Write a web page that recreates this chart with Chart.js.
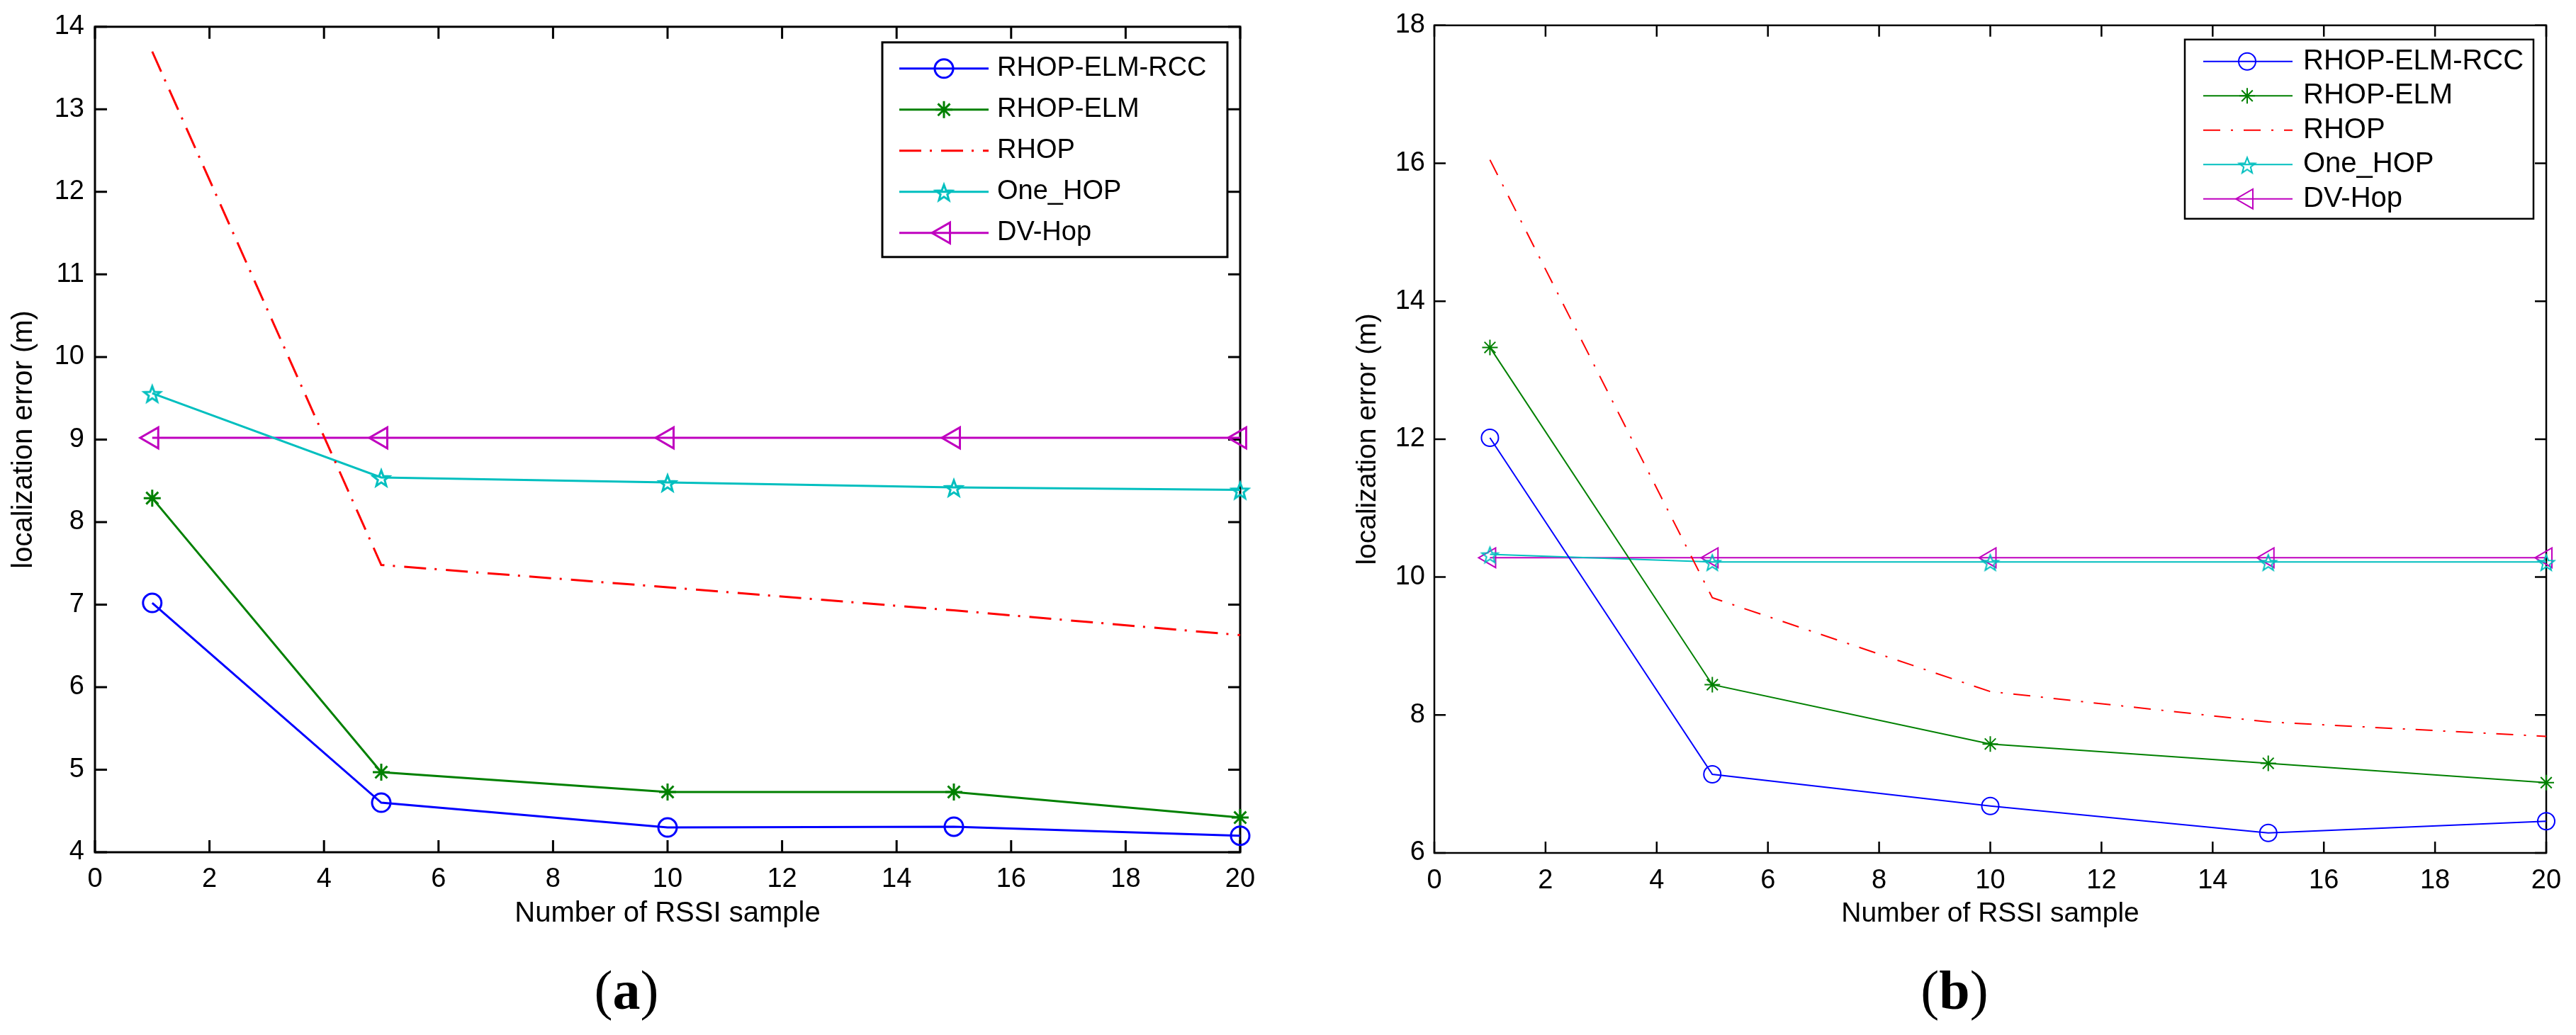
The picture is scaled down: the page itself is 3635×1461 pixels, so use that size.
<!DOCTYPE html>
<html>
<head>
<meta charset="utf-8">
<script src="https://cdn.jsdelivr.net/npm/chart.js@4.4.1/dist/chart.umd.min.js"></script>
<style>
html, body { margin: 0; padding: 0; background: #fff; }
body { width: 3635px; height: 1461px; position: relative; overflow: hidden; }
canvas { position: absolute; top: 0; }
#chartA { left: 0; }
#chartB { left: 1800px; }
.cap { position: absolute; top: 1350px; font-family: "Liberation Serif", "DejaVu Serif", serif; font-size: 78px; line-height: 96px; transform: translateX(-50%); }
</style>
</head>
<body>
<canvas id="chartA" width="1800" height="1461"></canvas>
<canvas id="chartB" width="1835" height="1461"></canvas>
<div class="cap" style="left:884px">(<b>a</b>)</div>
<div class="cap" style="left:2758px">(<b>b</b>)</div>
<script>
// x values: number of RSSI samples
const sampleCounts = [1, 5, 10, 15, 20];
const seriesNames = ["RHOP-ELM-RCC", "RHOP-ELM", "RHOP", "One_HOP", "DV-Hop"];

// (a)
const rccA = [7.02, 4.60, 4.30, 4.31, 4.20];
const elmA = [8.29, 4.97, 4.73, 4.73, 4.42];
const rhopA = [13.70, 7.48, 7.21, 6.93, 6.63];
const oneHopA = [9.56, 8.54, 8.48, 8.42, 8.39];
const dvHopA = [9.02, 9.02, 9.02, 9.02, 9.02];

// (b)
const rccB = [12.02, 7.14, 6.68, 6.29, 6.46];
const elmB = [13.33, 8.44, 7.58, 7.30, 7.02];
const rhopB = [16.05, 9.70, 8.34, 7.90, 7.69];
const oneHopB = [10.33, 10.22, 10.22, 10.22, 10.22];
const dvHopB = [10.28, 10.28, 10.28, 10.28, 10.28];

// tick labels
const xTicks = [0, 2, 4, 6, 8, 10, 12, 14, 16, 18, 20];
const yTicksA = [4, 5, 6, 7, 8, 9, 10, 11, 12, 13, 14];
const yTicksB = [6, 8, 10, 12, 14, 16, 18];

const xTitle = "Number of RSSI sample";
const yTitle = "localization error (m)";

const FONT = '"Liberation Sans", Arial, Helvetica, sans-serif';

// open pentagram marker (matlab 'p')
function pentagram(color, r, lw) {
    const s = Math.ceil(2 * r + 2 * lw + 4);
    const c = document.createElement('canvas');
    c.width = c.height = s;
    const g = c.getContext('2d');
    g.strokeStyle = color;
    g.lineWidth = lw;
    g.beginPath();
    for (let k = 0; k < 10; k++) {
        const rr = k % 2 ? r * 0.42 : r;
        const ang = -Math.PI / 2 + k * Math.PI / 5;
        const px = s / 2 + rr * Math.cos(ang);
        const py = s / 2 + 2 + rr * Math.sin(ang);
        if (k === 0) g.moveTo(px, py); else g.lineTo(px, py);
    }
    g.closePath();
    g.stroke();
    return c;
}

function points(vals) {
    return sampleCounts.map((x, i) => ({ x: x, y: vals[i] }));
}

function makeSets(vals, st) {
    const colors = ['#0000ff', '#008000', '#ff0000', '#00bfbf', '#bf00bf'];
    const styles = ['circle', 'star', false, pentagram('#00bfbf', st.starR, st.markLw), 'triangle'];
    const radii = [st.circR, st.astR, 0, st.starR, st.triR];
    return vals.map((v, i) => ({
        label: seriesNames[i],
        data: points(v),
        borderColor: colors[i],
        borderWidth: st.lineW,
        borderDash: i === 2 ? st.dash : [],
        pointStyle: styles[i],
        pointRadius: radii[i],
        pointRotation: i === 4 ? 270 : 0,
        pointBorderColor: colors[i],
        pointBackgroundColor: 'rgba(0,0,0,0)',
        pointBorderWidth: st.markLw,
        pointHoverRadius: radii[i],
        tension: 0,
        fill: false,
        clip: false
    }));
}

// box with inward ticks on all four sides, like matlab
const frameTicks = {
    id: 'frameTicks',
    beforeDatasetsDraw(chart, args, o) {
        const { ctx, chartArea: a, scales: { x, y } } = chart;
        ctx.save();
        ctx.strokeStyle = '#000';
        ctx.lineWidth = o.tickWidth;
        ctx.beginPath();
        x.ticks.forEach(t => {
            const px = x.getPixelForValue(t.value);
            ctx.moveTo(px, a.bottom); ctx.lineTo(px, a.bottom - o.len);
            ctx.moveTo(px, a.top); ctx.lineTo(px, a.top + o.len);
        });
        y.ticks.forEach(t => {
            const py = y.getPixelForValue(t.value);
            ctx.moveTo(a.left, py); ctx.lineTo(a.left + o.len, py);
            ctx.moveTo(a.right, py); ctx.lineTo(a.right - o.len, py);
        });
        ctx.stroke();
        ctx.lineWidth = o.frameWidth;
        ctx.strokeRect(a.left, a.top, a.right - a.left, a.bottom - a.top);
        ctx.restore();
    }
};

// legend box inside the plot, line sample with marker in the middle
const boxLegend = {
    id: 'boxLegend',
    afterDraw(chart, args, o) {
        const { ctx, chartArea: a } = chart;
        const left = a.right - o.right - o.width;
        const top = a.top + o.top;
        ctx.save();
        ctx.fillStyle = '#fff';
        ctx.fillRect(left, top, o.width, o.height);
        ctx.strokeStyle = '#000';
        ctx.lineWidth = o.frameWidth;
        ctx.strokeRect(left, top, o.width, o.height);
        chart.data.datasets.forEach((ds, i) => {
            const cy = top + o.firstRow + i * o.rowGap;
            ctx.strokeStyle = ds.borderColor;
            ctx.lineWidth = ds.borderWidth;
            ctx.setLineDash(ds.borderDash);
            ctx.beginPath();
            ctx.moveTo(left + o.lineStart, cy);
            ctx.lineTo(left + o.lineEnd, cy);
            ctx.stroke();
            ctx.setLineDash([]);
            if (ds.pointRadius > 0) {
                ctx.fillStyle = 'rgba(0,0,0,0)';
                ctx.lineWidth = ds.pointBorderWidth;
                Chart.helpers.drawPoint(ctx, {
                    pointStyle: ds.pointStyle,
                    radius: ds.pointRadius,
                    rotation: ds.pointRotation,
                    borderWidth: ds.pointBorderWidth
                }, left + o.markerX, cy);
            }
            ctx.fillStyle = '#000';
            ctx.font = o.font;
            ctx.textAlign = 'left';
            ctx.textBaseline = 'middle';
            ctx.fillText(ds.label, left + o.textX, cy);
        });
        ctx.restore();
    }
};

function makeChart(id, sets, yTicks, cfg) {
    new Chart(document.getElementById(id), {
        type: 'line',
        data: { datasets: sets },
        options: {
            responsive: false,
            animation: false,
            devicePixelRatio: 1,
            layout: { padding: cfg.padding },
            plugins: {
                legend: { display: false },
                tooltip: { enabled: false },
                frameTicks: cfg.frame,
                boxLegend: cfg.legend
            },
            scales: {
                x: {
                    type: 'linear',
                    min: xTicks[0],
                    max: xTicks[xTicks.length - 1],
                    afterBuildTicks: s => { s.ticks = xTicks.map(v => ({ value: v })); },
                    afterFit: s => { s.height = cfg.xHeight; },
                    grid: { display: false, drawTicks: false },
                    border: { display: false },
                    ticks: { color: '#000', font: { family: FONT, size: cfg.tickSize }, padding: cfg.xPad, maxRotation: 0 },
                    title: { display: true, text: xTitle, color: '#000', font: { family: FONT, size: cfg.titleSize }, padding: { top: 0, bottom: 0 } }
                },
                y: {
                    type: 'linear',
                    min: yTicks[0],
                    max: yTicks[yTicks.length - 1],
                    afterBuildTicks: s => { s.ticks = yTicks.map(v => ({ value: v })); },
                    afterFit: s => { s.width = cfg.yWidth; },
                    grid: { display: false, drawTicks: false },
                    border: { display: false },
                    ticks: { color: '#000', font: { family: FONT, size: cfg.tickSize }, padding: cfg.yPad },
                    title: { display: true, text: yTitle, color: '#000', font: { family: FONT, size: cfg.titleSize }, padding: { top: cfg.yTitlePad, bottom: 0 } }
                }
            }
        },
        plugins: [frameTicks, boxLegend]
    });
}

makeChart('chartA',
    makeSets([rccA, elmA, rhopA, oneHopA, dvHopA],
        { lineW: 3, markLw: 3, dash: [31, 12, 3, 13], circR: 13, astR: 12, starR: 12, triR: 17 }),
    yTicksA,
    {
        padding: { left: 0, right: 50, top: 32, bottom: 147 },
        xHeight: 111, yWidth: 134, tickSize: 38, titleSize: 40, xPad: 16, yPad: 15, yTitlePad: 10,
        frame: { len: 17, tickWidth: 3, frameWidth: 3 },
        legend: { right: 18, top: 22, width: 487, height: 303, firstRow: 37, rowGap: 58,
                  lineStart: 24, lineEnd: 150, markerX: 87, textX: 162, frameWidth: 3,
                  font: '38px ' + FONT }
    });

makeChart('chartB',
    makeSets([rccB, elmB, rhopB, oneHopB, dvHopB],
        { lineW: 2, markLw: 2, dash: [24, 15, 3, 15], circR: 12, astR: 11, starR: 12, triR: 16 }),
    yTicksB,
    {
        padding: { left: 0, right: 42, top: 32, bottom: 147 },
        xHeight: 110, yWidth: 224, tickSize: 38, titleSize: 39, xPad: 17, yPad: 13, yTitlePad: 107,
        frame: { len: 16, tickWidth: 2.5, frameWidth: 2.5 },
        legend: { right: 18, top: 20, width: 492, height: 253, firstRow: 31, rowGap: 48.5,
                  lineStart: 26, lineEnd: 152, markerX: 88, textX: 167, frameWidth: 2.5,
                  font: '40px ' + FONT }
    });
</script>
</body>
</html>
